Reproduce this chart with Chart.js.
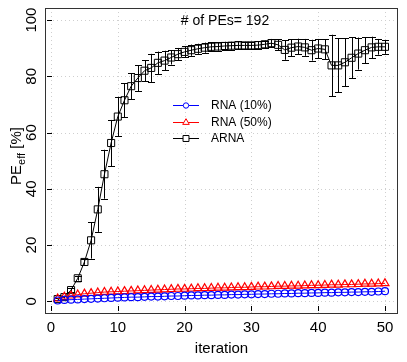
<!DOCTYPE html>
<html lang="en">
<head>
  <meta charset="UTF-8">
  <title>PE efficiency per iteration</title>
  <script src="https://cdn.jsdelivr.net/npm/chart.js"></script>
  <style>
    html, body { margin: 0; padding: 0; background: #fff; }
    #chartContainer { width: 407px; height: 362px; }
  </style>
</head>
<body>
  <div id="chartContainer">
    <canvas id="myChart"></canvas>
  </div>

  <script>
    // data
    const iterations = [1, 2, 3, 4, 5, 6, 7, 8, 9, 10,
      11, 12, 13, 14, 15, 16, 17, 18, 19, 20,
      21, 22, 23, 24, 25, 26, 27, 28, 29, 30,
      31, 32, 33, 34, 35, 36, 37, 38, 39, 40,
      41, 42, 43, 44, 45, 46, 47, 48, 49, 50];

    const rna10 = [0.3, 0.5, 0.6, 0.7, 0.8, 0.9, 1.0, 1.1, 1.2, 1.3,
      1.4, 1.5, 1.5, 1.6, 1.7, 1.7, 1.8, 1.9, 1.9, 2.0,
      2.1, 2.1, 2.2, 2.2, 2.3, 2.3, 2.4, 2.4, 2.5, 2.5,
      2.6, 2.6, 2.7, 2.7, 2.8, 2.8, 2.9, 2.9, 3.0, 3.0,
      3.1, 3.1, 3.2, 3.2, 3.3, 3.3, 3.4, 3.4, 3.5, 3.6];

    const rna50 = [1.0, 1.6, 2.0, 2.4, 2.7, 2.9, 3.1, 3.3, 3.4, 3.5,
      3.6, 3.7, 3.8, 3.9, 4.0, 4.1, 4.2, 4.3, 4.4, 4.4,
      4.5, 4.6, 4.6, 4.7, 4.8, 4.8, 4.9, 5.0, 5.0, 5.1,
      5.2, 5.2, 5.3, 5.4, 5.4, 5.5, 5.5, 5.6, 5.7, 5.7,
      5.8, 5.9, 5.9, 6.0, 6.0, 6.1, 6.2, 6.2, 6.3, 6.4];

    const arnaMean = [0.8, 1.5, 4.0, 8.2, 14.0, 21.7, 32.7, 45.2, 56.3, 65.7,
      71.5, 76.5, 79.4, 82.0, 83.0, 84.8, 85.6, 86.7, 87.9, 88.7,
      89.3, 89.8, 90.2, 90.5, 90.6, 90.8, 90.9, 91.0, 91.0, 91.0,
      91.1, 91.4, 91.8, 91.2, 89.4, 90.2, 90.6, 90.3, 89.3, 89.9,
      89.6, 83.9, 83.9, 85.0, 86.6, 88.1, 89.3, 90.3, 90.5, 90.5];

    const arnaErr = [0.3, 0.5, 0.8, 0.8, 1.0, 6.5, 8.0, 8.7, 8.2, 7.0,
      6.0, 4.6, 4.6, 3.7, 5.0, 4.0, 3.5, 2.5, 2.2, 2.0,
      2.0, 1.8, 1.8, 1.6, 1.5, 1.5, 1.4, 1.4, 1.3, 1.3,
      1.3, 1.3, 1.5, 2.0, 3.5, 3.0, 2.8, 3.0, 3.7, 3.4,
      3.6, 10.9, 9.6, 8.5, 7.3, 5.7, 4.6, 3.8, 2.8, 2.5];

    const xTicks = [0, 10, 20, 30, 40, 50];
    const yTicks = [0, 20, 40, 60, 80, 100];
    const seriesLabels = ['RNA (10%)', 'RNA (50%)', 'ARNA'];
    const annotation = '# of PEs= 192';

    const FONT = '"Liberation Sans", Arial, Helvetica, sans-serif';

    function toPoints(values) {
      return iterations.map((x, i) => ({ x: x, y: values[i] }));
    }

    // grid, box, ticks, labels, error bars, legend
    const overlay = {
      id: 'overlay',
      beforeDatasetsDraw(chart) {
        const ctx = chart.ctx;
        const area = chart.chartArea;
        const xs = chart.scales.x;
        const ys = chart.scales.y;
        ctx.save();
        ctx.strokeStyle = '#cfcfcf';
        ctx.lineWidth = 1;
        ctx.setLineDash([1, 3]);
        xTicks.forEach(t => {
          const px = Math.round(xs.getPixelForValue(t)) + 0.5;
          ctx.beginPath();
          ctx.moveTo(px, area.top);
          ctx.lineTo(px, area.bottom);
          ctx.stroke();
        });
        yTicks.forEach(t => {
          const py = Math.round(ys.getPixelForValue(t)) + 0.5;
          ctx.beginPath();
          ctx.moveTo(area.left, py);
          ctx.lineTo(area.right, py);
          ctx.stroke();
        });
        ctx.setLineDash([]);

        // error bars of ARNA
        ctx.strokeStyle = '#000';
        ctx.lineWidth = 1;
        iterations.forEach((it, i) => {
          const px = Math.round(xs.getPixelForValue(it)) + 0.5;
          const top = ys.getPixelForValue(arnaMean[i] + arnaErr[i]);
          const bot = ys.getPixelForValue(arnaMean[i] - arnaErr[i]);
          ctx.beginPath();
          ctx.moveTo(px, top);
          ctx.lineTo(px, bot);
          ctx.moveTo(px - 3.5, Math.round(top) + 0.5);
          ctx.lineTo(px + 3.5, Math.round(top) + 0.5);
          ctx.moveTo(px - 3.5, Math.round(bot) + 0.5);
          ctx.lineTo(px + 3.5, Math.round(bot) + 0.5);
          ctx.stroke();
        });
        ctx.restore();
      },
      afterDatasetsDraw(chart) {
        const ctx = chart.ctx;
        const area = chart.chartArea;
        const xs = chart.scales.x;
        const ys = chart.scales.y;
        ctx.save();

        // box
        ctx.strokeStyle = '#333';
        ctx.lineWidth = 1;
        ctx.strokeRect(area.left + 0.5, area.top + 0.5,
          area.right - area.left - 1, area.bottom - area.top - 1);

        // tick marks
        ctx.strokeStyle = '#000';
        ctx.beginPath();
        xTicks.forEach(t => {
          const px = Math.round(xs.getPixelForValue(t)) + 0.5;
          ctx.moveTo(px, area.bottom - 8);
          ctx.lineTo(px, area.bottom - 3);
        });
        yTicks.forEach(t => {
          const py = Math.round(ys.getPixelForValue(t)) + 0.5;
          ctx.moveTo(area.left + 2, py);
          ctx.lineTo(area.left + 7, py);
        });
        ctx.stroke();

        // tick labels
        ctx.fillStyle = '#000';
        ctx.font = '15px ' + FONT;
        ctx.textAlign = 'center';
        ctx.textBaseline = 'middle';
        xTicks.forEach(t => {
          ctx.fillText(String(t), xs.getPixelForValue(t), area.bottom + 14);
        });
        yTicks.forEach(t => {
          ctx.save();
          ctx.translate(area.left - 13, ys.getPixelForValue(t));
          ctx.rotate(-Math.PI / 2);
          ctx.fillText(String(t), 0, 0);
          ctx.restore();
        });

        // axis titles
        ctx.fillText('iteration', (area.left + area.right) / 2, area.bottom + 35);
        ctx.save();
        ctx.translate(17, 156);
        ctx.rotate(-Math.PI / 2);
        ctx.font = '15px ' + FONT;
        const w1 = ctx.measureText('PE').width;
        ctx.font = '11px ' + FONT;
        const w2 = ctx.measureText('eff').width;
        ctx.font = '15px ' + FONT;
        const w3 = ctx.measureText(' [%]').width;
        let x0 = -(w1 + w2 + w3) / 2;
        ctx.textAlign = 'left';
        ctx.fillText('PE', x0, 0);
        ctx.font = '11px ' + FONT;
        ctx.fillText('eff', x0 + w1, 5);
        ctx.font = '15px ' + FONT;
        ctx.fillText(' [%]', x0 + w1 + w2, 0);
        ctx.restore();

        // annotation
        ctx.font = '14px ' + FONT;
        ctx.textAlign = 'center';
        ctx.fillText(annotation, 225, 21);

        // legend
        ctx.font = '12px ' + FONT;
        ctx.textAlign = 'left';
        const rowsY = [105, 122, 138];
        chart.data.datasets.forEach((ds, i) => {
          const y = rowsY[i] + 0.5;
          ctx.strokeStyle = ds.borderColor;
          ctx.lineWidth = 1;
          ctx.beginPath();
          ctx.moveTo(173, y);
          ctx.lineTo(199, y);
          ctx.stroke();
          ctx.fillStyle = '#ffffff';
          Chart.helpers.drawPoint(ctx, {
            pointStyle: ds.pointStyle,
            radius: ds.pointRadius - 0.8,
            borderWidth: 1
          }, 186, y);
          ctx.fillStyle = '#000';
          ctx.fillText(ds.label, 211, rowsY[i] + 1);
        });
        ctx.restore();
      }
    };

    const ctx = document.getElementById('myChart').getContext('2d');
    const myChart = new Chart(ctx, {
      type: 'line',
      data: {
        datasets: [{
          label: seriesLabels[0],
          data: toPoints(rna10),
          borderColor: '#0000ff',
          backgroundColor: 'rgba(0,0,0,0)',
          borderWidth: 1,
          pointStyle: 'circle',
          pointRadius: 3.5,
          pointBorderWidth: 1.2,
          fill: false,
          tension: 0
        }, {
          label: seriesLabels[1],
          data: toPoints(rna50),
          borderColor: '#ff0000',
          backgroundColor: 'rgba(0,0,0,0)',
          borderWidth: 1,
          pointStyle: 'triangle',
          pointRadius: 4.6,
          pointBorderWidth: 1.2,
          fill: false,
          tension: 0
        }, {
          label: seriesLabels[2],
          data: toPoints(arnaMean),
          borderColor: '#000000',
          backgroundColor: 'rgba(0,0,0,0)',
          borderWidth: 1,
          pointStyle: 'rect',
          pointRadius: 5,
          pointBorderWidth: 1,
          fill: false,
          tension: 0
        }]
      },
      options: {
        responsive: true,
        maintainAspectRatio: false,
        devicePixelRatio: 1,
        animation: false,
        layout: { padding: { left: 45, right: 9, top: 8, bottom: 48 } },
        plugins: {
          legend: { display: false },
          tooltip: { enabled: false }
        },
        scales: {
          x: { type: 'linear', min: -0.9, max: 51.95, display: false },
          y: { type: 'linear', min: -4.5, max: 104.3, display: false }
        }
      },
      plugins: [overlay]
    });
  </script>
</body>
</html>
